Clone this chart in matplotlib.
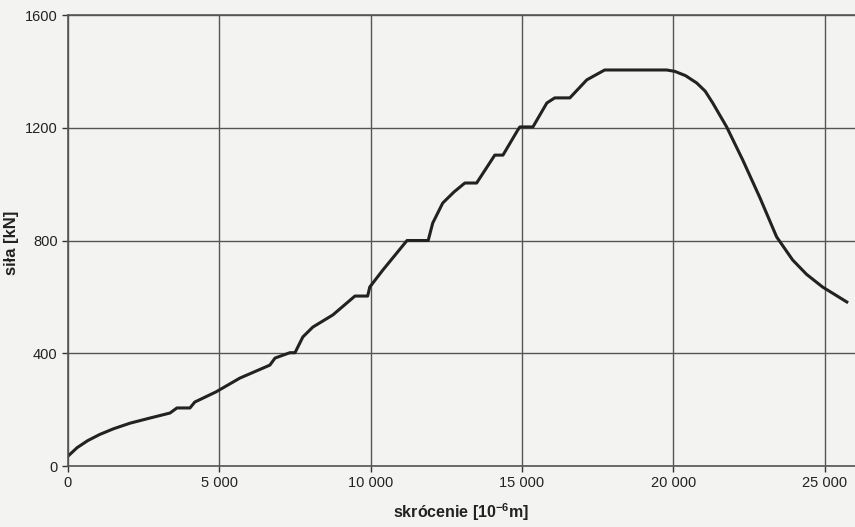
import numpy as np
import matplotlib.pyplot as plt

plt.rcParams['font.family'] = ['Liberation Sans', 'DejaVu Sans']
plt.rcParams['mathtext.fontset'] = 'custom'
plt.rcParams['mathtext.rm'] = 'Liberation Sans:bold'
plt.rcParams['mathtext.bf'] = 'Liberation Sans:bold'

# skrócenie [10^-6 m] and siła [kN]
skrocenie = [0, 300, 650, 1050, 1500, 2050, 2700, 3370, 3600, 4030, 4190,
             4890, 5680, 6670, 6840, 7330, 7500, 7760, 8090, 8750, 9480,
             9900, 9970, 10400, 11200, 11900, 12050, 12380, 12750, 13110,
             13500, 14100, 14370, 14860, 14930, 15360, 15820, 16080, 16580,
             17140, 17730, 19780, 20050, 20400, 20770, 21050, 21300, 21760,
             22290, 22850, 23410, 23940, 24400, 24930, 25730]
sila = [35, 65, 90, 112, 132, 152, 170, 188, 206, 206, 227,
        263, 312, 358, 383, 402, 402, 458, 493, 536, 603,
        603, 635, 695, 800, 800, 862, 933, 972, 1004,
        1004, 1103, 1103, 1192, 1203, 1203, 1288, 1306, 1306,
        1370, 1405, 1405, 1400, 1385, 1359, 1330, 1288, 1203,
        1086, 954, 813, 731, 680, 635, 582]

x_ticks = [0, 5000, 10000, 15000, 20000, 25000]
x_labels = ['0', '5 000', '10 000', '15 000', '20 000', '25 000']
y_ticks = [0, 400, 800, 1200, 1600]

bg = '#f3f3f1'
fig = plt.figure(figsize=(8.55, 5.27), dpi=100, facecolor=bg)
ax = fig.add_axes([0.0795, 0.1157, 0.9205, 0.8558], facecolor=bg)

ax.plot(skrocenie, sila, color='#222222', lw=2.2, solid_joinstyle='round')

ax.set_xlim(0, 26000)
ax.set_ylim(0, 1600)
ax.set_xticks(x_ticks)
ax.set_xticklabels(x_labels)
ax.set_yticks(y_ticks)
ax.grid(True, color='#555555', lw=1.0)
ax.tick_params(colors='#333333', labelcolor='#222222', labelsize=10.5,
               length=4, width=1.0)
for s in ['left', 'bottom', 'top']:
    ax.spines[s].set_color('#555555')
    ax.spines[s].set_linewidth(1.2)
ax.spines['right'].set_visible(False)

ax.set_xlabel('skrócenie [10$^{-6}$m]', fontsize=11.5, fontweight='bold',
              color='#222222')
ax.set_ylabel('siła [kN]', fontsize=12, fontweight='bold', color='#222222')
ax.xaxis.set_label_coords(0.5, -0.078)
ax.yaxis.set_label_coords(-0.062, 0.494)

fig.savefig('out.png', dpi=100, facecolor=bg)
